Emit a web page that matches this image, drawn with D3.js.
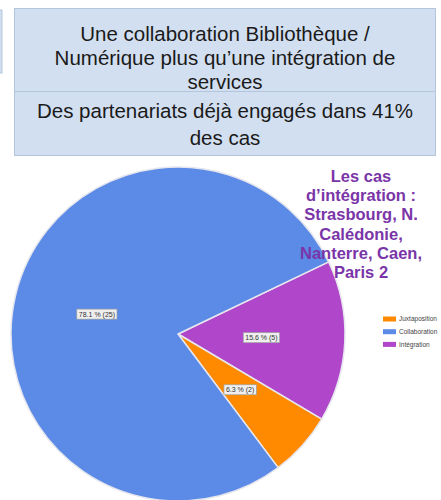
<!DOCTYPE html>
<html><head><meta charset="utf-8">
<script src="https://cdn.jsdelivr.net/npm/d3@7"></script>
<style>html,body{margin:0;padding:0;background:#fff;}svg{display:block;}</style>
</head><body>
<svg id="chart" width="441" height="500"></svg>
<script>
// Data
const categories = ["Intégration", "Juxtaposition", "Collaboration"];
const values = [5, 2, 25];
const percents = ["15.6", "6.3", "78.1"];
const legendOrder = ["Juxtaposition", "Collaboration", "Intégration"];
const colors = {"Intégration": "#B046C9", "Juxtaposition": "#FF8A00", "Collaboration": "#5B8BE6"};
const titleLines1 = ["Une collaboration Bibliothèque /", "Numérique plus qu’une intégration de", "services"];
const titleLines2 = ["Des partenariats déjà engagés dans 41%", "des cas"];
const noteLines = ["Les cas", "d’intégration :", "Strasbourg, N.", "Calédonie,", "Nanterre, Caen,", "Paris 2"];

const svg = d3.select("#chart");
const font = "'Liberation Sans', Arial, sans-serif";

// Title boxes
svg.append("rect").attr("x", -2).attr("y", 10).attr("width", 4).attr("height", 63)
  .attr("fill", "#D2DFF0").attr("stroke", "#B4C6DC").attr("stroke-width", 1);
svg.append("rect").attr("x", 14.5).attr("y", 8.5).attr("width", 421).attr("height", 83)
  .attr("fill", "#D2DFF0").attr("stroke", "#B4C6DC").attr("stroke-width", 1);
svg.append("rect").attr("x", 14.5).attr("y", 91.5).attr("width", 421).attr("height", 64)
  .attr("fill", "#D2DFF0").attr("stroke", "#B4C6DC").attr("stroke-width", 1);

svg.append("g").selectAll("text").data(titleLines1).join("text")
  .attr("x", 225).attr("y", (d, i) => 40.5 + i * 24.2)
  .attr("text-anchor", "middle").attr("font-family", font).attr("font-size", 20.5)
  .attr("fill", "#1a1a1a").text(d => d);
svg.append("g").selectAll("text").data(titleLines2).join("text")
  .attr("x", 225).attr("y", (d, i) => 118 + i * 27)
  .attr("text-anchor", "middle").attr("font-family", font).attr("font-size", 20.5)
  .attr("fill", "#1a1a1a").text(d => d);

// Pie
const cx = 178, cy = 334, R = 167;
const pie = d3.pie().sort(null).value(d => d.v).startAngle(64.4 * Math.PI / 180).endAngle(64.4 * Math.PI / 180 + 2 * Math.PI);
const data = categories.map((c, i) => ({c, v: values[i], p: percents[i]}));
const arcs = pie(data);
const arc = d3.arc().innerRadius(0).outerRadius(R);
const labelArc = d3.arc().innerRadius(0).outerRadius(R);
const g = svg.append("g").attr("transform", `translate(${cx},${cy})`);
g.selectAll("path").data(arcs).join("path")
  .attr("d", arc).attr("fill", d => colors[d.data.c])
  .attr("stroke", "#E6E6EE").attr("stroke-width", 1.5).attr("stroke-linejoin", "round");

const lbl = g.selectAll("g.lbl").data(arcs).join("g").attr("class", "lbl")
  .attr("transform", d => { const [x, y] = labelArc.centroid(d); return `translate(${x},${y})`; });
lbl.each(function(d) {
  const s = d3.select(this);
  const t = s.append("text").attr("text-anchor", "middle").attr("dy", "0.35em")
    .attr("font-family", font).attr("font-size", 7).attr("fill", "#333")
    .text(`${d.data.p} % (${d.data.v})`);
  const w = t.node().getComputedTextLength() + 4;
  s.insert("rect", "text").attr("x", -w / 2).attr("y", -5).attr("width", w).attr("height", 10)
    .attr("fill", "#EFEFEF").attr("stroke", "#A0A0A0").attr("stroke-width", 0.7);
});

// Legend
const lg = svg.append("g").selectAll("g").data(legendOrder).join("g")
  .attr("transform", (d, i) => `translate(383,${319 + i * 12.7})`);
lg.append("rect").attr("x", 0).attr("y", -2.5).attr("width", 13).attr("height", 5).attr("fill", d => colors[d]);
lg.append("text").attr("x", 16).attr("y", 0).attr("dy", "0.35em")
  .attr("font-family", font).attr("font-size", 6.5).attr("fill", "#444").text(d => d);

// Annotation
svg.append("g").selectAll("text").data(noteLines).join("text")
  .attr("x", 361).attr("y", (d, i) => 182 + i * 19.2)
  .attr("text-anchor", "middle").attr("font-family", font).attr("font-size", 16.5)
  .attr("font-weight", "bold").attr("fill", "#7A35A8").text(d => d);
</script>
</body></html>
